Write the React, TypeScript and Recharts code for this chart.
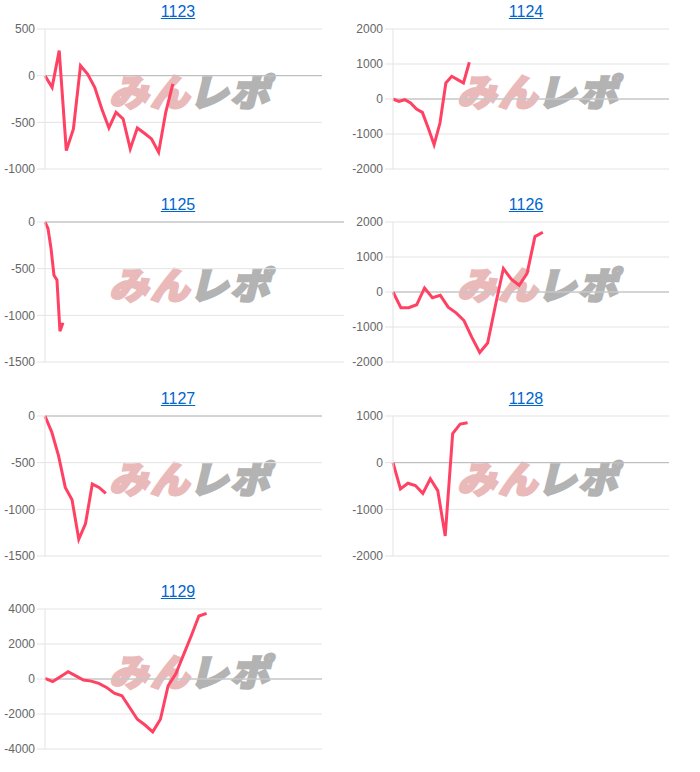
import React from "react";
import { LineChart, Line, XAxis, YAxis, CartesianGrid, ReferenceLine } from "recharts";

const titles = ["1123", "1124", "1125", "1126", "1127", "1128", "1129"];

const values1123 = [0, -125, 268, -803, -571, 107, 18, -125, -357, -560, -393, -464, -785, -560, -617, -678, -820, -393, -89];
const values1124 = [0, -67, -20, -115, -286, -382, -830, -1308, -687, 458, 649, 554, 458, 1050];
const values1125 = [0, -70, -280, -570, -620, -1170, -1080];
const values1126 = [0, -450, -450, -365, 115, -163, -96, -432, -595, -815, -1295, -1727, -1458, -370, 671, 365, 192, 528, 1583, 1707];
const values1127 = [0, -172, -424, -765, -897, -1321, -1152, -729, -765, -830];
const values1128 = [0, -562, -440, -490, -657, -346, -598, -1570, 626, 827, 855];
const values1129 = [40, -150, 130, 420, 180, -60, -120, -250, -480, -810, -960, -1630, -2300, -2630, -3020, -2300, -385, 290, 1380, 2460, 3600, 3750];

const ticks1123 = [-1000, -500, 0, 500];
const ticks1124 = [-2000, -1000, 0, 1000, 2000];
const ticks1125 = [-1500, -1000, -500, 0];
const ticks1126 = [-2000, -1000, 0, 1000, 2000];
const ticks1127 = [-1500, -1000, -500, 0];
const ticks1128 = [-2000, -1000, 0, 1000];
const ticks1129 = [-4000, -2000, 0, 2000, 4000];

const xMax = [39, 47, 100, 35, 41, 37, 36];

const allValues = [values1123, values1124, values1125, values1126, values1127, values1128, values1129];
const allTicks = [ticks1123, ticks1124, ticks1125, ticks1126, ticks1127, ticks1128, ticks1129];
const rightMargins = [26, 27, 4, 27, 26, 27, 26];

const cellLeft = [8, 356];
const cellTop = [0, 193, 387, 580];

const LINE_COLOR = "#ff4164";
const FONT = "'Liberation Sans', Arial, sans-serif";

function Watermark() {
  const base: React.CSSProperties = {
    fontFamily: "'Noto Sans CJK JP', sans-serif",
    fontWeight: 900,
    fontSize: 37,
    lineHeight: "37px",
    display: "inline-block",
    transform: "skewX(-14deg) scaleX(1.05)",
    letterSpacing: 2,
  };
  return (
    <div
      style={{
        position: "absolute",
        left: 107,
        top: 72,
        whiteSpace: "nowrap",
        zIndex: 0,
        pointerEvents: "none",
      }}
    >
      <span style={{ ...base, color: "#eab9b9", WebkitTextStroke: "2.5px #eab9b9" }}>みん</span>
      <span style={{ ...base, color: "#b3b3b3", WebkitTextStroke: "2.5px #b3b3b3", marginLeft: 2 }}>レポ</span>
    </div>
  );
}

function MiniChart({ idx }: { idx: number }) {
  const col = idx % 2;
  const row = Math.floor(idx / 2);
  const ticks = allTicks[idx];
  const data = allValues[idx].map((v, i) => ({ x: i, v }));
  return (
    <div
      style={{
        position: "absolute",
        left: cellLeft[col],
        top: cellTop[row],
        width: 340,
        height: 193,
      }}
    >
      <div
        style={{
          position: "absolute",
          top: 2,
          left: 0,
          width: 340,
          textAlign: "center",
          lineHeight: "20px",
          zIndex: 2,
        }}
      >
        <a
          href="#"
          style={{ color: "#0066cc", textDecoration: "underline", fontFamily: FONT, fontSize: 16 }}
        >
          {titles[idx]}
        </a>
      </div>
      <Watermark />
      <div style={{ position: "absolute", left: -8, top: 0, zIndex: 1 }}>
        <LineChart
          width={348}
          height={193}
          data={data}
          margin={{ top: 29, right: rightMargins[idx], bottom: 24, left: 0 }}
        >
          <CartesianGrid vertical={false} stroke="#e3e3e3" />
          <XAxis type="number" dataKey="x" domain={[0, xMax[idx]]} hide />
          <YAxis
            width={45}
            type="number"
            domain={[ticks[0], ticks[ticks.length - 1]]}
            ticks={ticks}
            interval={0}
            axisLine={{ stroke: "#e3e3e3" }}
            tickLine={{ stroke: "#e3e3e3" }}
            tickSize={8}
            tickMargin={2}
            tick={{ fill: "#666666", fontSize: 12, fontFamily: FONT }}
          />
          <ReferenceLine y={0} stroke="#b8b8b8" strokeWidth={1} />
          <Line
            type="linear"
            dataKey="v"
            stroke={LINE_COLOR}
            strokeWidth={3}
            dot={false}
            isAnimationActive={false}
          />
        </LineChart>
      </div>
    </div>
  );
}

export default function App() {
  return (
    <div
      style={{
        position: "absolute",
        left: 0,
        top: 0,
        width: 700,
        height: 772,
        background: "#ffffff",
        overflow: "hidden",
      }}
    >
      {titles.map((t, i) => (
        <MiniChart key={t} idx={i} />
      ))}
    </div>
  );
}
